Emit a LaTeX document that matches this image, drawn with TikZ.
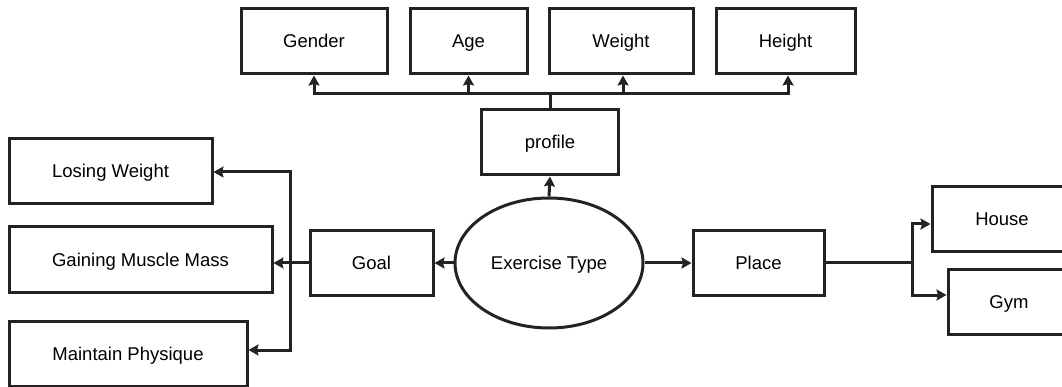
\documentclass[tikz,border=0pt]{standalone}
\usepackage{fontspec}
\setmainfont{Liberation Sans}
\usetikzlibrary{arrows.meta,shapes.geometric}
\definecolor{ink}{HTML}{272222}
\begin{document}
\begin{tikzpicture}[x=1pt,y=-1pt,
  every node/.style={font=\fontsize{18.5}{22}\selectfont, text=black, text height=13pt, text depth=0pt},
  box/.style={draw=ink, line width=3pt, inner sep=0pt, minimum height=65pt},
  conn/.style={draw=ink, line width=3pt},
  arr/.style={conn, -{Stealth[length=10pt,width=11pt,inset=1.5pt]}}]
\useasboundingbox (0,0) rectangle (1062,387);
\clip (0,0) rectangle (1062,387);
% top
\node[box, minimum width=146pt] (gender) at (314,41.5) {Gender};
\node[box, minimum width=117pt] (age) at (468.5,41.5) {Age};
\node[box, minimum width=144pt] (weight) at (621,41.5) {Weight};
\node[box, minimum width=139pt] (height) at (785.5,41.5) {Height};
\node[box, minimum width=137pt] (profile) at (550,142.5) {profile};
% centre
\node[draw=ink, line width=3pt, ellipse, inner sep=0pt, minimum width=188pt, minimum height=130pt] (ex) at (549,263) {Exercise Type};
\node[box, minimum width=123pt] (goal) at (371.5,263) {Goal};
\node[box, minimum width=131pt] (place) at (758.5,263) {Place};
% left
\node[box, minimum width=203pt] (lose) at (110.5,171.5) {Losing Weight};
\node[box, minimum width=263pt] (gain) at (140.5,259.5) {Gaining Muscle Mass};
\node[box, minimum width=238pt] (keep) at (128,354) {Maintain Physique};
% right
\node[box, minimum width=140pt] (house) at (1002,219.5) {House};
\node[box, minimum width=122pt] (gym) at (1009,301.5) {Gym};
% coordinates
\coordinate (pj) at (550,94);
\coordinate (gj) at (290,263);
\coordinate (rj) at (912,263);
% connectors top
\draw[conn] (profile.north) -- (pj);
\draw[arr] (pj) -| (gender.south);
\draw[arr] (pj) -| (age.south);
\draw[arr] (pj) -| ([xshift=2pt]weight.south);
\draw[arr] (pj) -| ([xshift=2.5pt]height.south);
\draw[arr] (ex.north) -- (profile.south);
% centre
\draw[arr] (ex.west) -- (goal.east);
\draw[arr] (ex.east) -- (place.west);
% left
\draw[conn] (goal.west) -- (gj);
\draw[arr] (gj) -- (gain.east |- gj);
\draw[arr] (gj) |- ([yshift=-0.5pt]lose.east);
\draw[arr] (gj) |- ([yshift=4pt]keep.east);
% right
\draw[conn] (place.east) -- (rj);
\draw[arr] (rj) |- ([yshift=-4.5pt]house.west);
\draw[arr] (rj) |- ([yshift=6.5pt]gym.west);
\end{tikzpicture}
\end{document}
